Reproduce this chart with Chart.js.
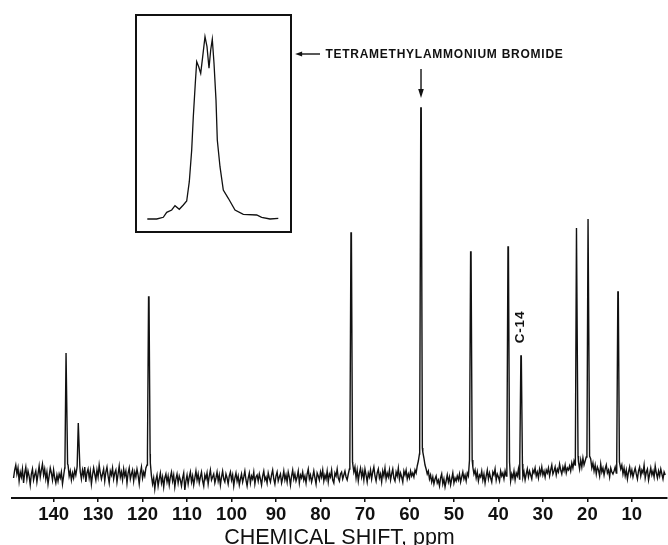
<!DOCTYPE html>
<html>
<head>
<meta charset="utf-8">
<script src="https://cdn.jsdelivr.net/npm/chart.js@4.4.1/dist/chart.umd.min.js"></script>
<style>
html,body{margin:0;padding:0;background:#fff;}
#wrap{position:relative;width:668px;height:545px;overflow:hidden;}
#main{position:absolute;left:0;top:0;}
#insetBox{position:absolute;left:135px;top:14px;width:153px;height:215px;border:2px solid #111;background:#fff;}
#inset{display:block;}
</style>
</head>
<body>
<div id="wrap">
  <canvas id="main" width="668" height="545"></canvas>
  <div id="insetBox"><canvas id="inset" width="153" height="215"></canvas></div>
</div>
<script>
// x axis ticks (ppm)
const xTicks = [140,130,120,110,100,90,80,70,60,50,40,30,20,10];

// resolved lines: chemical shift (ppm), peak height, height of the broadened foot
const peakShift  = [137.15, 134.4, 118.6, 73.1, 57.4, 46.2, 37.8, 34.9, 22.4, 19.8, 13.1];
const peakHeight = [145, 75, 201, 265, 390, 246, 251, 142, 270, 279, 206];
const peakFoot   = [34, 32, 44, 36, 50, 38, 36, 34, 42, 42, 36];

// baseline noise, every 0.25 ppm from 149.0 ppm down to 2.5 ppm
const noiseStart = 149.0, noiseStep = 0.25;
const baselineNoise = [
  20,28,33,24,30,17,26,21,29,15,25,31,19,27,22,13,24,29,18,23,
  27,16,24,32,21,28,34,23,29,19,26,14,22,30,25,18,28,20,15,23,
  17,24,20,26,14,22,30,30,30,33,22,27,18,25,20,28,23,30,30,30,
  26,19,28,22,31,16,25,29,20,27,14,23,30,24,18,28,21,33,25,19,
  24,29,17,26,31,22,15,27,23,30,19,25,28,16,24,32,21,26,18,29,
  22,27,15,25,30,19,24,28,17,26,21,29,23,14,25,31,20,26,22,30,
  33,40,40,35,22,14,20,9,18,23,12,19,25,15,21,11,20,24,16,22,
  13,21,26,17,23,11,19,24,15,22,18,12,20,25,8,17,23,14,21,26,
  16,22,13,20,27,18,24,15,21,26,17,12,23,19,25,14,22,28,18,21,
  24,15,20,26,17,23,13,21,27,19,16,24,20,14,22,26,18,23,12,20,
  25,17,22,13,19,24,16,21,27,18,12,20,25,15,22,19,26,14,21,23,
  17,24,19,13,22,27,18,21,15,25,20,16,23,28,19,14,22,26,17,21,
  24,15,20,27,18,23,16,26,21,13,22,28,19,24,17,21,27,15,23,20,
  26,18,22,15,24,29,19,23,16,21,27,20,14,25,22,18,26,21,28,17,
  23,19,27,16,24,21,28,18,15,25,22,29,20,17,24,26,19,23,27,21,
  18,24,29,36,36,34,26,31,20,28,17,25,30,21,27,18,29,23,16,25,
  21,28,19,26,31,22,17,25,29,20,24,16,27,22,30,19,25,21,28,18,
  24,29,20,17,26,22,30,19,25,21,16,27,23,28,19,24,20,27,22,25,
  21,28,25,32,37,44,50,50,46,40,33,29,24,27,19,23,16,21,14,19,
  22,15,18,12,20,24,14,19,11,17,23,16,21,13,19,25,15,20,17,22,
  18,24,16,21,26,19,23,17,25,22,30,30,30,31,24,28,20,26,17,23,
  21,27,18,24,15,22,28,19,25,20,16,26,23,29,18,24,21,17,27,22,
  25,19,27,22,28,28,28,17,24,20,27,18,25,22,29,19,30,30,21,26,
  18,24,29,21,27,23,19,28,25,30,22,26,20,29,24,31,23,27,21,28,
  25,30,22,28,33,24,27,31,23,29,26,34,28,24,31,27,33,25,30,28,
  32,27,35,30,37,33,40,40,36,29,38,31,40,33,37,41,40,40,36,39,
  30,35,27,33,24,31,28,22,34,26,30,23,29,33,25,28,21,30,26,24,
  27,31,25,36,36,36,29,33,24,30,22,28,19,26,31,23,28,21,26,30,
  24,19,27,31,22,28,25,33,20,26,29,18,24,30,23,27,21,32,25,20,
  27,22,29,24,19,26,23
];

// inset: expanded view of the tetramethylammonium bromide line
const insetOffset    = [0,9.4,16,19.4,24.4,27.7,32,36,39.4,42,44.4,46,48,49.4,51.4,53.4,55.4,57.7,59.7,61.7,63.4,65,66.7,68.7,70,72.7,76,81,87.7,96,109.4,114.4,122.7,131];
const insetIntensity = [0,0,1.7,6.7,9,13.3,9.7,14,18,37.3,69,102.3,135.7,157.3,152.3,145.7,162.3,182.3,172.3,150.7,169,179.7,155.7,119,79,52.3,29,20.7,9,4.7,4,1.7,0,0.7];

// annotation anchors (in data units)
const labelText = 'TETRAMETHYLAMMONIUM BROMIDE';
const labelShift = 78.9, labelLevel = 444, arrowTip = 85.7, arrowTail = 80.1;
const downArrowTop = 429, downArrowEnd = 400;
const c14Text = 'C-14', c14Shift = 35.1, c14Level = 171;

const FONT = "'Liberation Sans', Arial, Helvetica, sans-serif";
const INK = '#111';

const points = [];
baselineNoise.forEach((v, i) => {
  const ppm = noiseStart - i * noiseStep;
  if (peakShift.some(c => Math.abs(ppm - c) < 0.32)) return;
  points.push({x: ppm, y: v});
});
peakShift.forEach((c, k) => {
  points.push({x: c + 0.3, y: peakFoot[k]}, {x: c + 0.05, y: peakHeight[k]},
              {x: c - 0.05, y: peakHeight[k]}, {x: c - 0.3, y: peakFoot[k]});
});
points.sort((a, b) => b.x - a.x);

const annot = {
  id: 'annot',
  afterDraw(chart) {
    const {ctx, scales: {x, y}} = chart;
    ctx.save();
    ctx.fillStyle = INK; ctx.strokeStyle = INK; ctx.lineWidth = 1.4;

    // left arrow pointing at the inset, with its caption
    const ly = y.getPixelForValue(labelLevel);
    const tip = x.getPixelForValue(arrowTip), tail = x.getPixelForValue(arrowTail);
    ctx.beginPath(); ctx.moveTo(tip + 4, ly); ctx.lineTo(tail, ly); ctx.stroke();
    ctx.beginPath(); ctx.moveTo(tip, ly); ctx.lineTo(tip + 7, ly - 2.5); ctx.lineTo(tip + 7, ly + 2.5); ctx.closePath(); ctx.fill();
    ctx.font = `bold 12px ${FONT}`;
    ctx.letterSpacing = '0.75px';
    ctx.textAlign = 'left'; ctx.textBaseline = 'middle';
    ctx.fillText(labelText, x.getPixelForValue(labelShift), ly + 1);

    // down arrow on the reference line
    const dx = x.getPixelForValue(peakShift[4]);
    const dy0 = y.getPixelForValue(downArrowTop), dy1 = y.getPixelForValue(downArrowEnd);
    ctx.beginPath(); ctx.moveTo(dx, dy0); ctx.lineTo(dx, dy1 - 6); ctx.stroke();
    ctx.beginPath(); ctx.moveTo(dx, dy1); ctx.lineTo(dx - 2.8, dy1 - 9); ctx.lineTo(dx + 2.8, dy1 - 9); ctx.closePath(); ctx.fill();

    // C-14 label, vertical
    ctx.translate(x.getPixelForValue(c14Shift), y.getPixelForValue(c14Level));
    ctx.rotate(-Math.PI / 2);
    ctx.font = `bold 13.5px ${FONT}`;
    ctx.letterSpacing = '0.8px';
    ctx.textAlign = 'center';
    ctx.fillText(c14Text, 0, 0);
    ctx.restore();
  }
};

new Chart(document.getElementById('main'), {
  type: 'line',
  data: {
    datasets: [{
      data: points,
      borderColor: INK,
      borderWidth: 1.4,
      pointRadius: 0,
      tension: 0,
      fill: false
    }]
  },
  options: {
    responsive: false,
    animation: false,
    devicePixelRatio: 1,
    layout: {padding: {left: 12, right: 1, top: 8, bottom: 0}},
    plugins: {legend: {display: false}, tooltip: {enabled: false}},
    scales: {
      x: {
        type: 'linear',
        reverse: true,
        min: 2.1,
        max: 149.35,
        afterBuildTicks: s => { s.ticks = xTicks.map(v => ({value: v})); },
        afterFit: s => { s.height = 47; },
        border: {display: true, color: INK, width: 2},
        grid: {display: true, drawOnChartArea: false, drawTicks: true, tickLength: 4, color: INK, lineWidth: 1.5},
        ticks: {color: INK, padding: 4, maxRotation: 0, autoSkip: false,
                font: {family: FONT, size: 18.5, weight: 'bold', lineHeight: 1}},
        title: {display: true, text: 'CHEMICAL SHIFT, ppm', color: INK,
                font: {family: FONT, size: 21.5, lineHeight: 0.8}, padding: {top: 0, bottom: -1.5}}
      },
      y: {display: false, min: 0, max: 490}
    }
  },
  plugins: [annot]
});

new Chart(document.getElementById('inset'), {
  type: 'line',
  data: {
    datasets: [{
      data: insetOffset.map((v, i) => ({x: v, y: insetIntensity[i]})),
      borderColor: INK,
      borderWidth: 1.3,
      pointRadius: 0,
      tension: 0,
      fill: false
    }]
  },
  options: {
    responsive: false,
    animation: false,
    devicePixelRatio: 1,
    layout: {padding: 0},
    plugins: {legend: {display: false}, tooltip: {enabled: false}},
    scales: {
      x: {type: 'linear', display: false, min: -10.3, max: 142.7},
      y: {display: false, min: -12, max: 203}
    }
  }
});
</script>
</body>
</html>
